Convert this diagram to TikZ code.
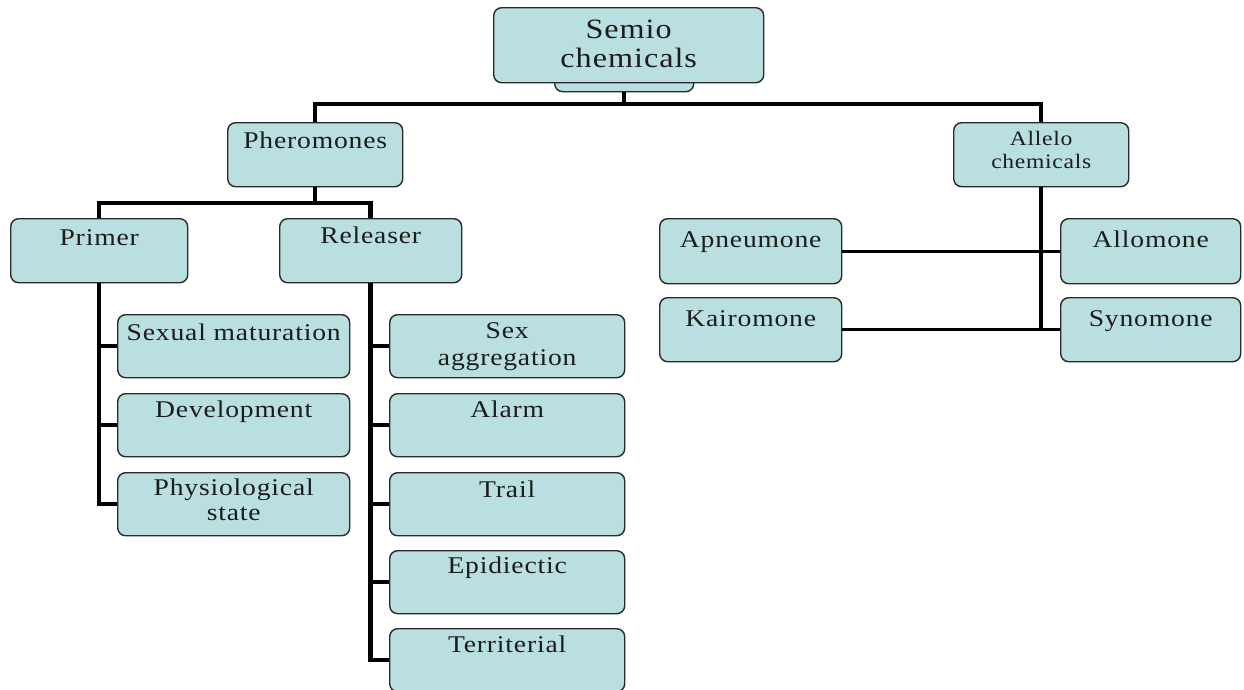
\documentclass[tikz,border=0pt]{standalone}
\usepackage{graphicx}
\usepackage{fontspec}
\setmainfont{Liberation Serif}[LetterSpace=3]
\definecolor{boxfill}{HTML}{BADFE0}
\definecolor{boxline}{HTML}{2A2A2A}
\definecolor{txt}{HTML}{1C1C1C}
\newcommand\tx[1]{\scalebox{1.15}[1]{\begin{tabular}[t]{@{}c@{}}#1\end{tabular}}}
\tikzset{
  box/.style={draw=boxline, line width=1.4pt, fill=boxfill, rounded corners=8pt,
    inner sep=0pt, anchor=north west, text=txt, font=\fontsize{24}{27}\selectfont},
  conn/.style={draw=black, line width=4.5pt},
  thinconn/.style={draw=black, line width=3.2pt}
}
\begin{document}
\begin{tikzpicture}[x=1pt,y=-1pt]
\useasboundingbox (0,0) rectangle (1244,689);
\clip (0,0) rectangle (1244,689);
\fill[white] (0,0) rectangle (1244,689);
\coordinate (bus) at (0,104);
\coordinate (bus2) at (0,203);
% boxes
\node[box, minimum width=139pt, minimum height=30pt] (tab) at (554,61) {};
\node[box, minimum width=270pt, minimum height=75pt, text height=31pt, text depth=44pt,
  font=\fontsize{28}{29}\selectfont] (semio) at (493,7) {\tx{Semio\\chemicals}};
\node[box, minimum width=175pt, minimum height=64pt, text height=26pt, text depth=38pt] (pher) at (227,122) {\tx{Pheromones}};
\node[box, minimum width=175pt, minimum height=64pt, text height=23pt, text depth=41pt,
  font=\fontsize{20.5}{23}\selectfont] (allelo) at (953,122) {\tx{Allelo\\chemicals}};
\node[box, minimum width=177pt, minimum height=64pt, text height=27pt, text depth=37pt] (primer) at (10,218) {\tx{Primer}};
\node[box, minimum width=182pt, minimum height=64pt, text height=25pt, text depth=39pt] (rel) at (279,218) {\tx{Releaser}};
\node[box, minimum width=182pt, minimum height=65pt, text height=29pt, text depth=36pt] (apn) at (659,218) {\tx{Apneumone}};
\node[box, minimum width=180pt, minimum height=65pt, text height=29pt, text depth=36pt] (allo) at (1060,218) {\tx{Allomone}};
\node[box, minimum width=182pt, minimum height=64pt, text height=29pt, text depth=35pt] (kai) at (659,297) {\tx{Kairomone}};
\node[box, minimum width=180pt, minimum height=64pt, text height=29pt, text depth=35pt] (syn) at (1060,297) {\tx{Synomone}};
\node[box, minimum width=232pt, minimum height=63pt, text height=26pt, text depth=37pt] (sm) at (117,314) {\tx{Sexual maturation}};
\node[box, minimum width=232pt, minimum height=63pt, text height=24pt, text depth=39pt] (dev) at (117,393) {\tx{Development}};
\node[box, minimum width=232pt, minimum height=63pt, text height=23pt, text depth=40pt,
  font=\fontsize{24}{25}\selectfont] (phys) at (117,472) {\tx{Physiological\\state}};
\node[box, minimum width=235pt, minimum height=63pt, text height=24pt, text depth=39pt,
  font=\fontsize{24}{27}\selectfont] (sex) at (389,314) {\tx{Sex\\aggregation}};
\node[box, minimum width=235pt, minimum height=63pt, text height=24pt, text depth=39pt] (alarm) at (389,393) {\tx{Alarm}};
\node[box, minimum width=235pt, minimum height=63pt, text height=25pt, text depth=38pt] (trail) at (389,472) {\tx{Trail}};
\node[box, minimum width=235pt, minimum height=63pt, text height=23pt, text depth=40pt] (epi) at (389,550) {\tx{Epidiectic}};
\node[box, minimum width=235pt, minimum height=63pt, text height=24pt, text depth=39pt] (terr) at (389,628) {\tx{Territerial}};
% connectors
\draw[conn] (tab.south) -- (tab.south |- bus) -| (pher.north);
\draw[conn] (tab.south |- bus) -| (allelo.north);
\draw[conn] (pher.south) -- (pher.south |- bus2) -| (primer.north);
\draw[conn] (pher.south |- bus2) -| (rel.north);
\draw[conn] (primer.south) |- (sm.west);
\draw[conn] (primer.south) |- (dev.west);
\draw[conn] (primer.south) |- (phys.west);
\draw[conn] (rel.south) |- (sex.west);
\draw[conn] (rel.south) |- (alarm.west);
\draw[conn] (rel.south) |- (trail.west);
\draw[conn] (rel.south) |- (epi.west);
\draw[conn] (rel.south) |- (terr.west);
\draw[conn] (allelo.south) -- (allelo.south |- kai.east);
\draw[thinconn] (apn.east) -- (allo.west);
\draw[thinconn] (kai.east) -- (syn.west);
\end{tikzpicture}
\end{document}
